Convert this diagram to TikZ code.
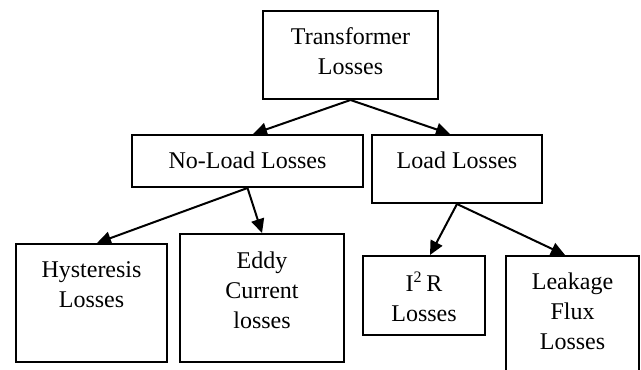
\documentclass[tikz,border=0pt]{standalone}
\usepackage{fontspec}
\setmainfont{Liberation Serif}
\usetikzlibrary{arrows.meta}

\tikzset{
  lossbox/.style={draw, line width=1pt, inner sep=0pt},
  losstext/.style={anchor=north, align=center, inner sep=0pt, font=\fontsize{12}{15}\selectfont},
}

\begin{document}
\begin{tikzpicture}[x=0.5pt, y=-0.5pt, >={Triangle[length=7pt,width=6.5pt]}]
\useasboundingbox (0,0) rectangle (641,369);

\node[lossbox, minimum width=87.5pt, minimum height=44pt] (trans) at (350.5,55) {};
\node[losstext] (transtext) at ([yshift=-8.5pt]trans.north) {Transformer\\Losses};

\node[lossbox, minimum width=115.5pt, minimum height=26pt] (noload) at (247.5,161) {};
\node[losstext] (noloadtext) at ([yshift=-8.5pt]noload.north) {No-Load Losses};

\node[lossbox, minimum width=85pt, minimum height=34pt] (load) at (457,169) {};
\node[losstext] (loadtext) at ([yshift=-8.5pt]load.north) {Load Losses};

\node[lossbox, minimum width=75.5pt, minimum height=59pt] (hyst) at (91.5,303) {};
\node[losstext] (hysttext) at ([yshift=-9pt]hyst.north) {Hysteresis\\Losses};

\node[lossbox, minimum width=82pt, minimum height=64pt] (eddy) at (262,298) {};
\node[losstext] (eddytext) at ([yshift=-9pt]eddy.north) {Eddy\\Current\\losses};

\node[lossbox, minimum width=61pt, minimum height=39.5pt] (itwor) at (424,295.5) {};
\node[losstext] (itwortext) at ([yshift=-8.5pt]itwor.north) {I\textsuperscript{2}\,R\\Losses};

\node[lossbox, minimum width=66.5pt, minimum height=72pt] (leak) at (572.5,328) {};
\node[losstext] (leaktext) at ([yshift=-8.5pt]leak.north) {Leakage\\Flux\\Losses};

% arrows
\draw[->, line width=1pt] (trans.south) -- ([xshift=2.75pt]noload.north);
\draw[->, line width=1pt] (trans.south) -- ([xshift=-3.5pt]load.north);

\draw[->, line width=1pt] (noload.south) -- ([xshift=2.75pt]hyst.north);
\draw[->, line width=1pt] (noload.south) -- (eddy.north);

\draw[->, line width=1pt] (load.south) -- ([xshift=3pt]itwor.north);
\draw[->, line width=1pt] (load.south) -- ([xshift=-3.75pt]leak.north);

\end{tikzpicture}
\end{document}
